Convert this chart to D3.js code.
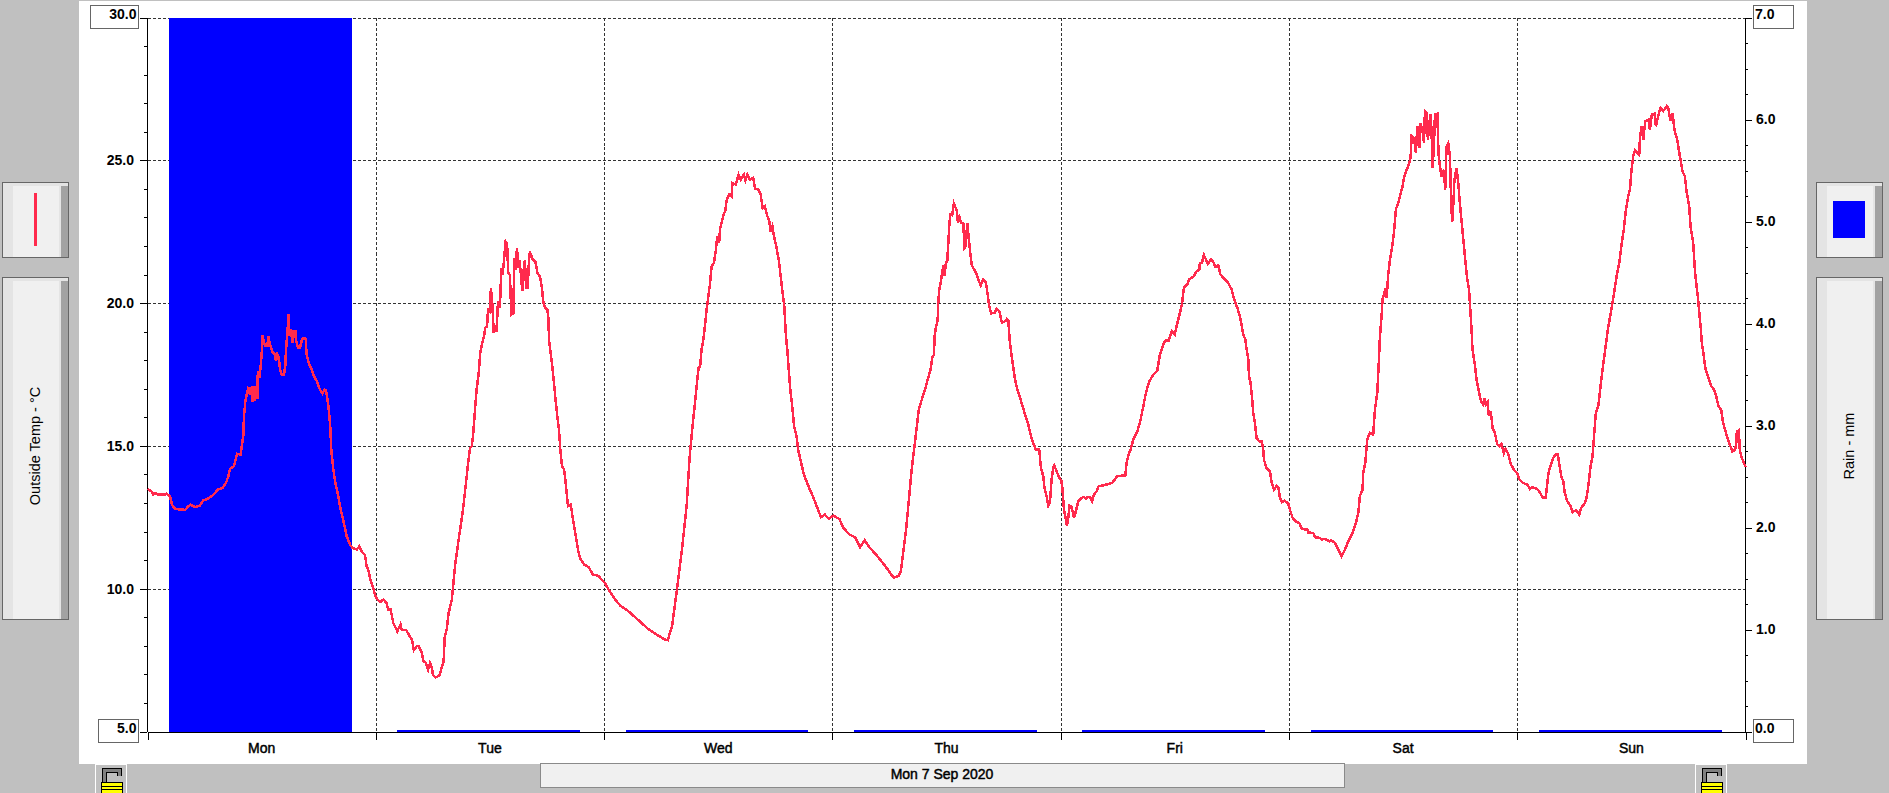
<!DOCTYPE html>
<html>
<head>
<meta charset="utf-8">
<script src="https://cdn.jsdelivr.net/npm/d3@7"></script>
<style>
  html, body { margin: 0; padding: 0; background: #c0c0c0; overflow: hidden; }
  text { font-family: "Liberation Sans", Arial, sans-serif; fill: #000; }
</style>
</head>
<body>
<div id="plot_div"></div>
<script>
const width  = 1889;
const height = 793;
const margin = {top: 17.5, right: 143.5, bottom: 61.5, left: 147.5}

const days = ["Mon", "Tue", "Wed", "Thu", "Fri", "Sat", "Sun"];
const dateLabel = "Mon 7 Sep 2020";
const tempLabel = "Outside Temp - \u00b0C";
const rainLabel = "Rain - mm";

// rain per day, mm
const rainValues = [7.0, 0.01, 0.01, 0.01, 0.01, 0.01, 0.01];

const tempTicks = [30, 25, 20, 15, 10, 5];
const tempMinorTicks = [29,28,27,26,24,23,22,21,19,18,17,16,14,13,12,11,9,8,7,6];
const rainTicks = [7, 6, 5, 4, 3, 2, 1, 0];
const rainMinorTicks = [6.75,6.5,6.25,5.75,5.5,5.25,4.75,4.5,4.25,3.75,3.5,3.25,2.75,2.5,2.25,1.75,1.5,1.25,0.75,0.5,0.25];

// outside temp per day: [hour of day, deg C]
const tempMon = [[0,13.49],[.44,13.4],[.6,13.3],[.8,13.35],[1.15,13.29],[1.84,13.29],[2,13.33],[2.36,13.24],[2.58,12.94],[2.9,12.79],[3.77,12.77],[3.94,12.75],[4.3,12.89],[4.54,12.94],[5,12.86],[5.5,12.9],[5.87,13.1],[6.2,13.12],[6.75,13.24],[7.1,13.35],[7.34,13.47],[7.9,13.53],[8.25,13.7],[8.5,13.94],[8.67,14.2],[9.1,14.29],[9.3,14.58],[9.44,14.72],[9.8,14.7],[9.93,15.05],[10.07,15.34],[10.14,16.04],[10.28,16.53],[10.42,16.8],[10.63,17.07],[10.77,16.8],[10.98,17.09],[11.05,16.53],[11.2,17.09],[11.3,16.57],[11.4,17.11],[11.55,16.65],[11.6,17.62],[11.75,17.38],[11.9,17.8],[12,18.2],[12.1,18.87],[12.25,18.6],[12.4,18.5],[12.6,18.5],[12.7,18.84],[12.88,18.55],[13.15,18.28],[13.4,18.2],[13.5,17.97],[13.65,18.2],[13.8,18.08],[13.93,17.68],[14.1,17.5],[14.35,17.5],[14.5,17.85],[14.55,18.3],[14.66,18.78],[14.77,19.25],[14.84,19.63],[14.9,18.84],[15.05,19.1],[15.26,18.6],[15.33,19.02],[15.54,19.02],[15.6,18.73],[15.82,18.43],[16.03,18.43],[16.24,18.73],[16.45,18.78],[16.63,18.75],[16.73,18.2],[17,17.85],[17.26,17.68],[17.5,17.44],[17.8,17.27],[18.13,16.97],[18.4,16.83],[18.6,16.97],[18.77,16.95],[19,16.45],[19.2,15.75],[19.33,14.81],[19.54,14.17],[19.75,13.7],[20.06,13.24],[20.24,12.89],[20.6,12.36],[20.95,11.83],[21.3,11.54],[21.54,11.43],[22,11.37],[22.27,11.48],[22.62,11.25],[22.86,11.19],[23.04,10.78],[23.2,10.67],[23.4,10.37],[23.7,10.05]];

const tempTue = [[0,9.7],[.44,9.53],[.8,9.62],[1.14,9.5],[1.3,9.27],[1.56,9.27],[1.84,8.8],[2.26,8.51],[2.6,8.75],[2.72,8.57],[3.2,8.55],[3.52,8.36],[3.8,8.22],[4,7.85],[4.3,7.99],[4.5,7.99],[4.82,7.78],[5,7.46],[5.28,7.4],[5.5,7.17],[5.7,7.4],[5.9,7.23],[6,6.99],[6.26,6.89],[6.68,6.96],[6.92,7.23],[7.13,7.46],[7.24,8.28],[7.45,8.57],[7.66,9.15],[8,9.62],[8.33,10.8],[8.7,11.7],[9.13,12.66],[9.48,13.7],[9.73,14.46],[9.9,14.92],[10.1,14.99],[10.25,15.45],[10.43,16.27],[10.6,16.97],[10.8,17.49],[11,18.31],[11.24,18.66],[11.38,18.83],[11.5,19.13],[11.7,19.18],[11.8,19.77],[12,19.71],[12.1,20.52],[12.25,20],[12.4,18.95],[12.56,19.24],[12.7,19],[12.85,20.06],[13.05,19.83],[13.2,21.22],[13.33,20.99],[13.47,21.46],[13.65,22.16],[13.8,22.1],[13.93,21.05],[14.1,20.99],[14.25,19.59],[14.46,19.65],[14.56,21.57],[14.7,21.17],[14.84,21.92],[15,21.22],[15.12,21.52],[15.27,20.93],[15.4,20.41],[15.5,21.05],[15.68,21.52],[15.8,20.52],[15.97,20.52],[16.1,21.46],[16.2,21.8],[16.5,21.52],[16.77,21.46],[17,21.05],[17.26,20.93],[17.47,20.52],[17.6,20.06],[17.8,19.83],[18.03,19.77],[18.17,19.42],[18.2,18.72],[18.38,18.25],[18.56,17.79],[18.73,17.2],[18.9,16.62],[19.08,16.04],[19.26,15.57],[19.4,14.87],[19.58,14.29],[19.8,14.17],[20,13.59],[20.2,12.89],[20.5,12.95],[20.7,12.48],[20.95,12],[21.3,11.3],[21.5,11.05],[21.9,10.85],[22.4,10.75],[22.8,10.5],[23.4,10.45],[23.8,10.3]];

const tempWed = [[.1,10.2],[.5,9.95],[1.08,9.66],[1.72,9.4],[2.6,9.2],[3.1,9.05],[3.6,8.9],[4.6,8.6],[5.5,8.4],[6.4,8.22],[6.7,8.2],[7.15,8.7],[7.66,9.97],[8.2,11.4],[8.68,12.9],[8.99,14.58],[9.1,14.99],[9.3,15.69],[9.5,16.33],[9.66,16.86],[9.8,17.32],[9.94,17.73],[10.1,17.79],[10.25,18.37],[10.43,18.72],[10.6,19.19],[10.78,19.77],[10.96,20.24],[11.13,20.65],[11.3,21.29],[11.55,21.4],[11.76,21.87],[11.9,22.34],[12.1,22.11],[12.2,22.63],[12.36,22.81],[12.55,23.1],[12.74,23.21],[12.88,23.6],[13.16,23.8],[13.4,23.74],[13.5,24.2],[13.86,24.15],[14.14,24.5],[14.36,24.32],[14.7,24.5],[14.85,24.3],[15.05,24.5],[15.34,24.32],[15.68,24.38],[15.87,24],[16.18,24],[16.46,23.8],[16.67,23.33],[16.9,23.39],[17.17,23.04],[17.37,22.86],[17.5,22.51],[17.7,22.69],[17.86,22.34],[18.14,21.93],[18.36,21.52],[18.57,20.94],[18.77,20.36],[18.95,19.89],[19.12,18.84],[19.26,18.37],[19.44,17.56],[19.58,16.97],[19.82,16.27],[19.97,15.69],[20.24,15.34],[20.4,14.87],[20.66,14.5],[21,14],[21.6,13.5],[22,13.2],[22.8,12.5],[23.2,12.6],[23.6,12.45]];

const tempThu = [[.13,12.56],[.76,12.43],[1.14,12.14],[1.77,11.9],[2.4,11.8],[2.9,11.45],[3.4,11.7],[3.9,11.45],[4.7,11.15],[5.55,10.8],[6.45,10.38],[6.95,10.45],[7.2,10.6],[7.75,12.07],[8.35,14.2],[9.1,16.3],[9.8,17.04],[10.08,17.39],[10.33,17.68],[10.5,18.09],[10.68,18.2],[10.75,18.84],[10.9,19.19],[11.07,19.37],[11.14,20.07],[11.24,20.48],[11.38,20.71],[11.52,21],[11.66,21.32],[11.8,20.97],[11.94,21.41],[12.08,21.47],[12.19,22.11],[12.3,22.75],[12.4,23.1],[12.6,23.07],[12.78,23.49],[12.96,23.34],[13.1,23.22],[13.2,22.81],[13.38,22.99],[13.55,22.81],[13.76,22.81],[13.9,21.94],[14.04,22],[14.1,22.46],[14.2,22.81],[14.33,22.29],[14.46,21.88],[14.64,21.35],[14.8,21.24],[15.1,21.06],[15.34,20.83],[15.6,20.62],[15.87,20.83],[16.15,20.71],[16.3,20.36],[16.5,19.89],[16.7,19.64],[17.06,19.66],[17.27,19.8],[17.55,19.72],[17.83,19.31],[18.18,19.37],[18.32,19.43],[18.5,19.37],[18.67,18.61],[18.85,18.14],[19,17.79],[19.2,17.33],[19.4,17.04],[19.9,16.5],[20.42,15.92],[20.6,15.75],[20.84,15.4],[21,15.2],[21.4,14.87],[21.75,14.87],[21.93,14.23],[22.17,13.94],[22.3,13.53],[22.52,13.24],[22.7,12.91],[22.87,13],[23.05,13.82],[23.22,14.23],[23.33,14.31],[23.58,14.11],[23.86,13.88]];

const tempFri = [[.07,13.8],[.2,13.47],[.35,12.77],[.55,12.42],[.66,12.19],[.8,12.48],[.94,12.91],[1.15,12.86],[1.4,12.48],[1.6,12.71],[1.85,13.06],[2.2,13.18],[2.45,13.21],[2.66,13.14],[2.8,13.21],[3.08,13.21],[3.3,13.06],[3.5,13.3],[3.78,13.41],[4,13.59],[4.5,13.62],[5.4,13.7],[5.7,13.82],[5.95,13.94],[6.8,13.97],[6.93,14.4],[7.14,14.7],[7.35,14.87],[7.64,15.22],[8.06,15.51],[8.33,15.8],[8.69,16.39],[8.97,16.86],[9.28,17.23],[9.74,17.5],[10.16,17.64],[10.44,18.2],[10.8,18.55],[11.03,18.7],[11.35,18.67],[11.7,19.02],[12,18.9],[12.26,19.29],[12.54,19.66],[12.75,19.95],[12.96,20.54],[13.31,20.65],[13.52,20.83],[13.95,20.92],[14.3,21.12],[14.57,21.16],[14.64,21.41],[14.85,21.41],[15.06,21.68],[15.27,21.53],[15.48,21.38],[15.8,21.53],[16.11,21.41],[16.26,21.27],[16.57,21.32],[16.8,21],[17.1,20.89],[17.62,20.71],[17.97,20.48],[18.25,20.13],[18.57,19.84],[18.85,19.54],[19.1,19.08],[19.2,18.9],[19.41,18.73],[19.55,18.38],[19.73,18.03],[19.8,17.44],[19.97,17.21],[20.11,16.74],[20.25,16.16],[20.42,15.81],[20.6,15.28],[20.88,15.16],[21.13,15.16],[21.3,14.87],[21.37,14.52],[21.65,14.23],[22,14.11],[22.2,13.7],[22.43,13.47],[22.7,13.59],[22.9,13.53],[23.05,13.18],[23.26,13.03],[23.54,13.08],[23.93,12.98]];

const tempSat = [[.1,12.77],[.39,12.48],[.8,12.34],[1.09,12.3],[1.37,12.09],[1.93,12.07],[2.03,11.97],[2.56,11.95],[2.73,11.8],[3.26,11.78],[3.43,11.72],[3.78,11.75],[4.24,11.66],[4.48,11.69],[4.84,11.6],[5.19,11.37],[5.54,11.13],[5.89,11.37],[6.24,11.66],[6.48,11.81],[6.76,12.01],[7.04,12.3],[7.29,12.65],[7.46,13.24],[7.74,13.47],[7.81,14.05],[8.02,14.4],[8.23,15.22],[8.51,15.46],[8.86,15.4],[9.04,16.27],[9.29,16.86],[9.43,17.79],[9.57,18.84],[9.74,19.54],[9.84,20.13],[10.09,20.42],[10.27,20.19],[10.44,21],[10.62,21.52],[10.83,21.93],[11.04,22.46],[11.25,23.3],[11.49,23.5],[11.67,23.74],[11.95,24.09],[12.09,24.38],[12.3,24.61],[12.54,24.79],[12.79,25.08],[12.9,25.84],[13.17,25.75],[13.35,25.26],[13.49,26.19],[13.7,25.43],[13.84,26.31],[14.05,26.02],[14.2,25.61],[14.3,26.72],[14.47,26.66],[14.61,25.72],[14.82,26.48],[14.9,26.6],[15,25.96],[15.1,24.73],[15.24,25.43],[15.35,26.6],[15.6,26.63],[15.73,25.2],[15.87,24.79],[16.05,24.44],[16.29,24.67],[16.43,23.97],[16.57,25.49],[16.75,25.61],[16.93,25.14],[17.07,23.27],[17.2,22.86],[17.4,24.32],[17.62,24.73],[17.8,24.21],[17.97,23.51],[18.2,22.69],[18.4,21.99],[18.6,21.29],[18.75,20.82],[18.93,20.5],[19.2,19.07],[19.3,18.37],[19.52,17.91],[19.73,17.32],[20,16.86],[20.2,16.56],[20.43,16.45],[20.6,16.68],[20.7,16.45],[20.88,16.53],[21.02,16.04],[21.16,16.21],[21.3,15.98],[21.41,15.63],[21.65,15.46],[21.9,15.05],[22.11,14.99],[22.35,15.07],[22.6,14.75],[22.77,14.89],[23.05,14.73],[23.34,14.35],[23.65,14.17],[24,14.03]];

const tempSun = [[.21,13.84],[.63,13.7],[1.05,13.65],[1.33,13.49],[1.61,13.55],[2.1,13.49],[2.31,13.41],[2.66,13.2],[3.01,13.2],[3.15,13.65],[3.29,14.05],[3.54,14.35],[3.78,14.58],[4.06,14.7],[4.27,14.7],[4.41,14.4],[4.63,13.94],[4.84,13.76],[5,13.35],[5.26,13.06],[5.6,12.89],[5.82,12.68],[6.17,12.75],[6.52,12.6],[6.73,12.83],[7.11,13],[7.29,13.18],[7.5,13.65],[7.71,14.29],[7.92,14.64],[8.13,15.57],[8.27,16.16],[8.55,16.45],[8.76,17.09],[8.97,17.67],[9.25,18.37],[9.53,19.07],[10.1,20.18],[10.45,20.94],[10.73,21.41],[11,22.11],[11.2,22.57],[11.43,23.27],[11.67,23.74],[11.85,23.97],[12.02,24.67],[12.2,25.14],[12.37,25.35],[12.83,25.2],[12.9,25.78],[13.1,26.21],[13.25,25.72],[13.46,26.37],[13.8,26.42],[13.95,26.05],[14.15,26.6],[14.44,26.63],[14.58,26.19],[14.86,26.6],[15.07,26.83],[15.35,26.72],[15.7,26.89],[15.88,26.83],[16.12,26.37],[16.33,26.66],[16.54,26.05],[16.82,25.72],[17.1,25.14],[17.38,24.61],[17.63,24.44],[17.8,23.91],[18.08,23.39],[18.22,22.69],[18.5,22.11],[18.7,21.06],[18.9,20.47],[19,20.18],[19.31,19.07],[19.41,18.6],[19.62,18.14],[19.8,17.67],[20.11,17.38],[20.39,17.09],[20.6,17.03],[20.88,16.8],[21.16,16.39],[21.44,16.27],[21.65,15.8],[22,15.4],[22.35,15.05],[22.6,14.81],[22.88,14.85],[23.02,15.05],[23.09,15.51],[23.3,15.55],[23.41,14.81],[23.62,14.58],[24,14.26]];

const tempDays = [tempMon, tempTue, tempWed, tempThu, tempFri, tempSat, tempSun];

const plotRight  = width - margin.right
const plotBottom = height - margin.bottom

const svg = d3.create("svg")
      .attr("width", width)
      .attr("height", height)
      .attr("viewBox", [0, 0, width, height])
      .style("display", "block")

// scales
const x = d3.scaleLinear().domain([0, 168]).range([margin.left, plotRight]);
const y = d3.scaleLinear().domain([5, 30]).range([plotBottom, margin.top]);
const yRain = d3.scaleLinear().domain([0, 7]).range([plotBottom, margin.top]);
const xDay = d3.scaleBand().domain(days).range([margin.left, plotRight])
      .paddingInner(0.2).paddingOuter(0.1).align(0.475);

// white sheet behind the graph
svg.append("rect").attr("x", 79).attr("y", 1).attr("width", 1728).attr("height", 763).attr("fill", "#fff");

// side buttons
function button(bx, by, bw, bh){
    const g = svg.append("g").attr("shape-rendering", "crispEdges");
    g.append("rect").attr("x", bx).attr("y", by).attr("width", bw).attr("height", bh).attr("fill", "#e4e4e4");
    g.append("rect").attr("x", bx + 10).attr("y", by + 3).attr("width", bw - 20).attr("height", bh - 3).attr("fill", "#f0f0f0");
    g.append("rect").attr("x", bx + bw - 8).attr("y", by + 3).attr("width", 8).attr("height", bh - 3).attr("fill", "#a2a2a2");
    g.append("rect").attr("x", bx).attr("y", by).attr("width", bw).attr("height", bh)
        .attr("fill", "none").attr("stroke", "#666").attr("stroke-width", 1.5);
}
button(2.5, 182.5, 66, 75);
button(2.5, 277.5, 66, 342);
button(1816.5, 182.5, 66, 75);
button(1816.5, 277.5, 66, 342);

svg.append("line").attr("x1", 35.5).attr("x2", 35.5).attr("y1", 193).attr("y2", 246)
    .attr("stroke", "#ff2a4d").attr("stroke-width", 3).attr("shape-rendering", "crispEdges");
svg.append("rect").attr("x", 1833).attr("y", 201).attr("width", 32).attr("height", 37)
    .attr("fill", "#0000ff");

svg.append("text").attr("transform", "translate(35,446) rotate(-90)")
    .attr("text-anchor", "middle").attr("dy", "0.35em").style("font-size", "14.5px").text(tempLabel);
svg.append("text").attr("transform", "translate(1849,446) rotate(-90)")
    .attr("text-anchor", "middle").attr("dy", "0.35em").style("font-size", "14.5px").text(rainLabel);

// date bar
svg.append("rect").attr("x", 540).attr("y", 763).attr("width", 804).attr("height", 24)
    .attr("fill", "#f0f0f0").attr("stroke", "#8a8a8a").attr("shape-rendering", "crispEdges");
svg.append("text").attr("x", 942).attr("y", 774).attr("text-anchor", "middle").attr("dy", "0.35em")
    .style("font-size", "14px").attr("stroke", "#000").attr("stroke-width", 0.45).text(dateLabel);

// lock icons
function lock(lx){
    const g = svg.append("g").attr("transform", `translate(${lx},764)`).attr("shape-rendering", "crispEdges");
    g.append("rect").attr("x", 0.5).attr("y", 0.5).attr("width", 31).attr("height", 40)
        .attr("fill", "#c0c0c0").attr("stroke", "#fff");
    g.append("path").attr("d", "M9 18V6H24V12").attr("fill", "none").attr("stroke", "#000").attr("stroke-width", 5);
    g.append("path").attr("d", "M9 18V6H24V12").attr("fill", "none").attr("stroke", "#808080").attr("stroke-width", 3);
    g.append("rect").attr("x", 6).attr("y", 18).attr("width", 22).attr("height", 14).attr("fill", "#ffff00");
    [18, 22, 25].forEach(d => g.append("line").attr("x1", 6).attr("x2", 28).attr("y1", d + 0.5).attr("y2", d + 0.5).attr("stroke", "#000"));
    g.append("line").attr("x1", 6.5).attr("x2", 6.5).attr("y1", 18).attr("y2", 29).attr("stroke", "#000");
    g.append("line").attr("x1", 27.5).attr("x2", 27.5).attr("y1", 18).attr("y2", 29).attr("stroke", "#000");
}
lock(95);
lock(1695);

// grid
const grid = svg.append("g").attr("stroke", "#333").attr("stroke-dasharray", "3,2").attr("shape-rendering", "crispEdges");
grid.selectAll("line.h").data(tempTicks.filter(d => d > 5)).join("line")
    .attr("class", "h")
    .attr("x1", margin.left).attr("x2", plotRight)
    .attr("y1", d => y(d) + 0.5).attr("y2", d => y(d) + 0.5);
grid.selectAll("line.v").data(d3.range(24, 168, 24)).join("line")
    .attr("class", "v")
    .attr("x1", d => x(d) + 0.5).attr("x2", d => x(d) + 0.5)
    .attr("y1", margin.top).attr("y2", plotBottom);

// rain bars
svg.append("g").attr("fill", "#0000ff").attr("shape-rendering", "crispEdges")
    .selectAll("rect").data(rainValues).join("rect")
    .attr("x", (d, i) => xDay(days[i]))
    .attr("width", xDay.bandwidth())
    .attr("y", d => yRain(d))
    .attr("height", d => yRain(0) - yRain(d));

// axes
function styleAxis(g){
    g.selectAll("path,line").attr("stroke", "#000").attr("shape-rendering", "crispEdges");
    g.selectAll("text").style("font-size", "14px").style("font-weight", "bold").attr("fill", "#000");
}

const labelBox = (bx, by, bw, bh) => svg.append("rect").attr("x", bx).attr("y", by).attr("width", bw).attr("height", bh)
    .attr("fill", "#fff").attr("stroke", "#666").attr("stroke-width", 1.5).attr("shape-rendering", "crispEdges");
labelBox(90.5, 5.5, 48, 23);
labelBox(98.5, 719.5, 40, 23);
labelBox(1753.5, 5.5, 40, 23);
labelBox(1753.5, 719.5, 40, 23);

svg.append("g").attr("transform", `translate(${margin.left - 0.5},0)`)
    .call(d3.axisLeft(y).tickValues(tempMinorTicks).tickSize(3).tickSizeOuter(0).tickFormat(""))
    .call(styleAxis);
const leftAxis = svg.append("g").attr("transform", `translate(${margin.left - 0.5},0)`)
    .call(d3.axisLeft(y).tickValues(tempTicks).tickSize(7).tickSizeOuter(0).tickPadding(6).tickFormat(d3.format(".1f")))
    .call(styleAxis);
leftAxis.selectAll("text").filter(d => d == 30 || d == 5).attr("x", -10.5).attr("y", -3);

svg.append("g").attr("transform", `translate(${plotRight - 0.5},0)`)
    .call(d3.axisRight(yRain).tickValues(rainMinorTicks).tickSize(3).tickSizeOuter(0).tickFormat(""))
    .call(styleAxis);
const rightAxis = svg.append("g").attr("transform", `translate(${plotRight - 0.5},0)`)
    .call(d3.axisRight(yRain).tickValues(rainTicks).tickSize(7).tickSizeOuter(0).tickPadding(4).tickFormat(d3.format(".1f")))
    .call(styleAxis);
rightAxis.selectAll("text").filter(d => d == 7 || d == 0).attr("x", 10).attr("y", -3);

svg.append("g").attr("transform", `translate(0,${plotBottom})`)
    .call(d3.axisBottom(x).tickValues(d3.range(0, 169, 24)).tickSize(8).tickSizeOuter(0).tickFormat(""))
    .call(styleAxis);

svg.append("g").selectAll("text").data(days).join("text")
    .attr("x", (d, i) => x(i * 24 + 12))
    .attr("y", 748.5).attr("dy", "0.35em").attr("text-anchor", "middle")
    .attr("stroke", "#000").attr("stroke-width", 0.45)
    .style("font-size", "14px")
    .text(d => d);

// temperature trace, days joined end to end
const tempPoints = tempDays.flatMap((day, i) => day.map(p => [i * 24 + p[0], p[1]]));
const line = d3.line().x(d => x(d[0])).y(d => y(d[1]));
svg.append("path").datum(tempPoints)
    .attr("d", line)
    .attr("fill", "none")
    .attr("stroke", "#ff2a4d")
    .attr("stroke-width", 2.5)
    .attr("shape-rendering", "crispEdges");

document.getElementById("plot_div").append(svg.node());
</script>
</body>
</html>
